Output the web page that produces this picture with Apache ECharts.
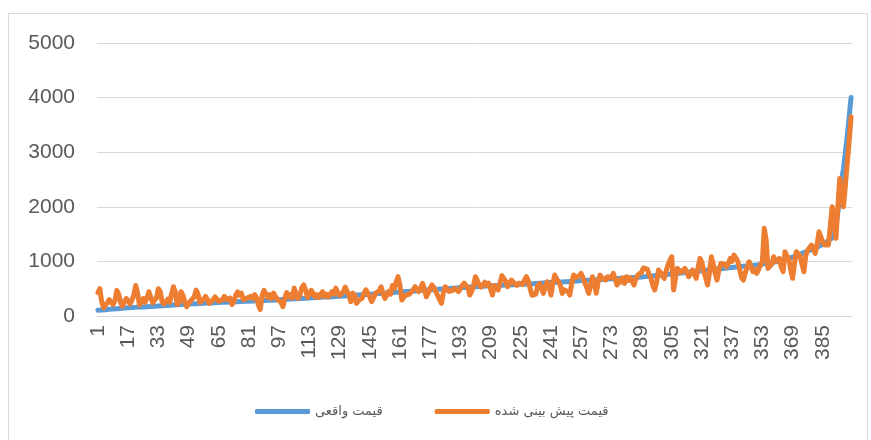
<!DOCTYPE html>
<html>
<head>
<meta charset="utf-8">
<script src="https://cdn.jsdelivr.net/npm/echarts@6/dist/echarts.min.js"></script>
<style>
html,body{margin:0;padding:0;background:#fff;}
#chart{width:871px;height:440px;}
</style>
</head>
<body>
<div id="chart"></div>
<script>
// Category labels: row numbers 1..400
var categories = Array.from({length: 400}, function (_, k) { return String(k + 1); });

var seriesNames = ['قیمت واقعی', 'قیمت پیش بینی شده'];

var yTicks = [0, 1000, 2000, 3000, 4000, 5000];

// Actual price (sorted ascending)
var actualPrice = [
  105,108,110,113,116,119,122,124,127,130,133,136,139,142,145,148,
  150,152,154,156,158,160,163,165,167,169,171,173,175,177,179,181,
  185,187,189,191,193,195,197,199,201,203,205,207,209,211,213,215,217,
  220,222,224,226,228,229,231,233,235,237,238,240,242,244,246,
  248,249,251,252,254,255,257,258,260,261,263,264,266,267,269,270,
  272,274,275,277,278,280,281,283,284,286,287,289,290,292,294,296,
  298,300,302,304,306,308,310,312,314,316,318,320,322,324,326,328,
  330,332,334,336,338,340,342,344,346,348,350,352,354,356,358,360,
  362,364,367,369,371,374,376,379,381,383,386,388,391,393,395,398,
  400,402,405,407,410,412,414,417,419,422,424,427,429,432,434,437,
  440,442,445,447,450,452,455,457,460,462,465,467,470,472,475,477,
  480,482,485,487,490,492,495,497,500,502,505,507,510,512,515,517,
  520,522,524,526,528,530,532,534,536,538,540,542,544,546,548,550,
  552,554,555,557,559,560,562,564,566,567,569,571,573,574,576,578,
  580,582,584,586,588,590,592,594,596,598,600,602,604,606,608,610,
  612,614,616,618,620,623,625,627,629,631,633,635,637,640,642,644,
  648,650,652,654,656,658,660,662,664,666,668,670,672,674,676,678,
  680,682,684,686,688,690,693,695,697,699,701,703,706,708,710,713,
  715,718,721,724,727,730,734,737,741,744,748,751,755,759,763,767,
  770,773,777,780,784,788,791,795,799,803,806,810,814,818,822,826,
  830,834,837,841,845,848,852,856,859,863,867,870,874,878,882,886,
  890,894,897,901,904,908,911,915,918,922,925,929,932,936,939,943,
  950,955,961,967,973,979,985,991,997,1004,1011,1020,
  1030,1042,1054,1066,1078,1090,1102,1114,1126,
  1150,1163,1176,1190,1203,1217,
  1230,1245,1262,1279,1296,1313,
  1330,1355,1380,1405,
  1430,1460,1650,1900,2200,2500,2700,3000,3300,3650,4000
];

// Predicted price
var predictedPrice = [
  430,500,260,150,200,240,300,250,210,280,
  470,400,250,180,260,320,280,220,290,380,
  560,420,200,180,320,250,330,445,340,240,
  290,330,500,450,260,220,260,310,250,400,
  536,440,210,250,445,380,260,170,230,270,
  290,350,475,400,250,270,310,360,300,230,
  250,300,350,310,270,255,300,360,300,270,
  330,210,260,380,440,380,420,300,275,330,
  300,360,320,390,340,200,120,380,470,400,
  340,390,320,420,360,310,300,250,170,330,
  430,350,390,330,510,400,320,380,520,570,
  480,340,400,470,420,350,390,340,400,445,
  360,400,350,380,445,400,510,430,380,360,
  440,530,520,380,262,420,380,232,280,300,
  330,420,480,500,350,262,330,415,380,460,
  536,420,320,380,445,400,560,500,620,720,
  560,293,340,380,353,400,415,480,536,500,
  445,520,600,480,353,420,500,570,520,450,
  415,300,232,420,536,500,450,415,470,507,
  480,445,500,560,600,628,520,384,450,560,
  720,650,567,530,507,620,560,600,500,384,
  560,520,476,600,740,750,640,536,600,659,
  620,598,560,600,628,580,660,720,640,500,
  380,353,400,560,598,500,415,520,628,560,
  384,600,750,680,628,560,415,480,507,450,
  384,600,750,700,690,740,781,700,598,520,
  415,560,720,600,415,620,750,700,690,660,
  720,750,700,781,680,567,660,620,700,598,
  720,650,700,640,567,680,750,720,800,880,
  902,860,760,690,560,476,620,842,800,740,
  690,820,933,1020,1085,476,700,872,840,800,
  811,872,800,720,780,842,760,690,900,1055,
  980,811,700,567,800,1085,950,781,659,850,
  960,994,950,902,960,1055,1000,1116,1100,1000,
  850,700,659,800,900,994,900,811,850,781,
  850,933,1000,1605,1400,872,902,950,1085,1000,
  980,1055,900,811,1177,1100,1055,850,690,950,
  1177,1208,1100,950,811,1100,1208,1250,1300,1250,
  1147,1300,1543,1450,1360,1300,1268,1300,1330,2000,
  1700,1422,2000,2520,2550,2000,2400,2800,3200,3647
];

var chart = echarts.init(document.getElementById('chart'), null, {renderer: 'canvas'});
var textColor = '#595959';
var fontFam = '"Liberation Sans", "DejaVu Sans", sans-serif';

chart.setOption({
  animation: false,
  backgroundColor: '#ffffff',
  graphic: [{
    type: 'rect',
    shape: {x: 8.5, y: 13.5, width: 859, height: 440},
    style: {fill: 'none', stroke: '#d9d9d9', lineWidth: 1},
    silent: true
  }],
  grid: {left: 97, right: 19, top: 43, bottom: 124, containLabel: false},
  legend: {
    data: seriesNames,
    left: 250,
    top: 400,
    icon: 'roundRect',
    itemWidth: 55,
    itemHeight: 5,
    itemGap: 52,
    textStyle: {color: textColor, fontSize: 13, fontFamily: '"DejaVu Sans", sans-serif'}
  },
  xAxis: {
    type: 'category',
    data: categories,
    boundaryGap: true,
    axisLine: {show: true, lineStyle: {color: '#d9d9d9', width: 1}},
    axisTick: {show: false},
    axisLabel: {
      interval: 15,
      rotate: 90,
      margin: 9,
      color: textColor,
      fontSize: 21,
      fontFamily: fontFam
    },
    splitLine: {show: false}
  },
  yAxis: {
    type: 'value',
    min: yTicks[0],
    max: yTicks[yTicks.length - 1],
    interval: 1000,
    axisLine: {show: false},
    axisTick: {show: false},
    axisLabel: {
      color: textColor, fontSize: 21, fontFamily: fontFam, margin: 22,
      formatter: function (v) { return String(v); }
    },
    splitLine: {lineStyle: {color: '#d9d9d9', width: 1}}
  },
  series: [
    {
      name: seriesNames[0],
      type: 'line',
      data: actualPrice,
      showSymbol: false,
      symbol: 'none',
      color: '#5B9BD5',
      lineStyle: {color: '#5B9BD5', width: 5, join: 'round', cap: 'round'},
      z: 2
    },
    {
      name: seriesNames[1],
      type: 'line',
      data: predictedPrice,
      showSymbol: false,
      symbol: 'none',
      color: '#ED7D31',
      lineStyle: {color: '#ED7D31', width: 5, join: 'round', cap: 'round'},
      z: 3
    }
  ]
});
</script>
</body>
</html>
